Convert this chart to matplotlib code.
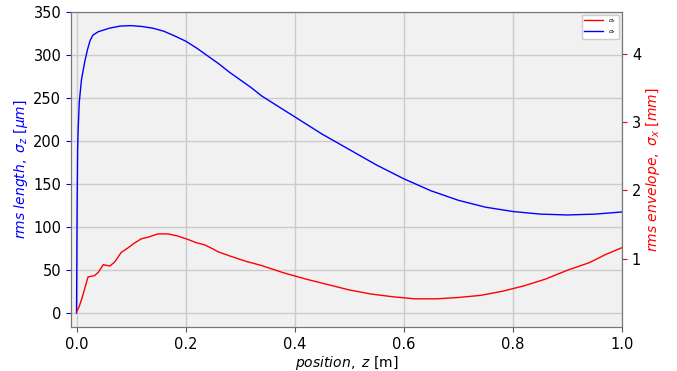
import matplotlib
matplotlib.use("Agg")
import numpy as np
import matplotlib.pyplot as plt

# ── data ────────────────────────────────────────────────────────────────────
# bunch length sigma_z [um] vs position z [m]
z_len = [0.0, 0.001, 0.002, 0.003, 0.005, 0.009, 0.015, 0.02, 0.025, 0.03,
         0.04, 0.06, 0.08, 0.10, 0.12, 0.14, 0.16, 0.18, 0.20, 0.22, 0.24,
         0.26, 0.28, 0.30, 0.32, 0.34, 0.40, 0.45, 0.50, 0.55, 0.60, 0.65,
         0.70, 0.75, 0.80, 0.85, 0.90, 0.95, 1.00]
sigma_z = [0, 120, 190, 214, 245, 271, 292, 306, 317, 323,
           327, 331, 333.5, 334, 333, 331, 327.5, 322, 316, 308, 299,
           290, 280, 271, 262, 252, 228, 208, 190, 172, 156, 142,
           131, 123, 118, 115, 114, 115, 117.5]

# transverse envelope sigma_x [mm] vs position z [m]
z_env = [0.0, 0.005, 0.01, 0.015, 0.021, 0.027, 0.033, 0.04, 0.049, 0.055,
         0.061, 0.07, 0.082, 0.095, 0.105, 0.119, 0.13, 0.149, 0.168, 0.185,
         0.204, 0.22, 0.235, 0.25, 0.259, 0.28, 0.31, 0.338, 0.38, 0.42,
         0.46, 0.50, 0.54, 0.58, 0.62, 0.66, 0.70, 0.74, 0.78, 0.82, 0.86,
         0.90, 0.94, 0.97, 1.00]
sigma_x = [0.22, 0.30, 0.42, 0.56, 0.73, 0.74, 0.75, 0.80, 0.91, 0.90,
           0.89, 0.95, 1.09, 1.16, 1.22, 1.29, 1.31, 1.36, 1.36, 1.33,
           1.28, 1.23, 1.20, 1.14, 1.10, 1.04, 0.96, 0.90, 0.79, 0.70,
           0.62, 0.54, 0.48, 0.44, 0.41, 0.41, 0.43, 0.46, 0.52, 0.60, 0.70,
           0.83, 0.94, 1.06, 1.16]

# ── figure ──────────────────────────────────────────────────────────────────
fig = plt.figure(figsize=(6.77, 3.71), dpi=100)
ax1 = fig.add_axes([0.105, 0.119, 0.814, 0.849])
ax2 = ax1.twinx()

ax1.set_facecolor("#f1f1f1")
ax1.grid(True, color="#cccccc", lw=1.0)
ax1.set_axisbelow(True)

l1, = ax2.plot(z_env, sigma_x, color="red", lw=1.0, label=r"$\sigma_x$")
l2, = ax1.plot(z_len, sigma_z, color="blue", lw=1.0, label=r"$\sigma_z$")

ax1.set_xlim(-0.01, 1.0)
ax1.set_ylim(-16, 350)
ax2.set_ylim(0.0, 4.61)
ax1.set_xticks([0.0, 0.2, 0.4, 0.6, 0.8, 1.0])
ax1.set_yticks(range(0, 351, 50))
ax2.set_yticks([1, 2, 3, 4])

ax1.tick_params(axis="both", labelsize=10.5)
ax1.tick_params(axis="y", color="blue")
ax2.tick_params(axis="y", labelsize=10.5, color="red")
ax1.tick_params(axis="x", color="#555555", pad=4)

for ax in (ax1, ax2):
    for sp in ax.spines.values():
        sp.set_color("#777777")

ax1.set_xlabel(r"$position,\ z$ [m]", fontsize=10, labelpad=1)
ax1.set_ylabel(r"$rms\ length,\ \sigma_z\ [\mu m]$", color="blue",
               fontsize=10, labelpad=2)
ax2.set_ylabel(r"$rms\ envelope,\ \sigma_x\ [mm]$", color="red",
               fontsize=10, labelpad=2)

ax2.legend(handles=[l1, l2], loc="upper right", fontsize=4.5,
           handlelength=3, framealpha=1.0)

fig.savefig("out.png", dpi=100)
